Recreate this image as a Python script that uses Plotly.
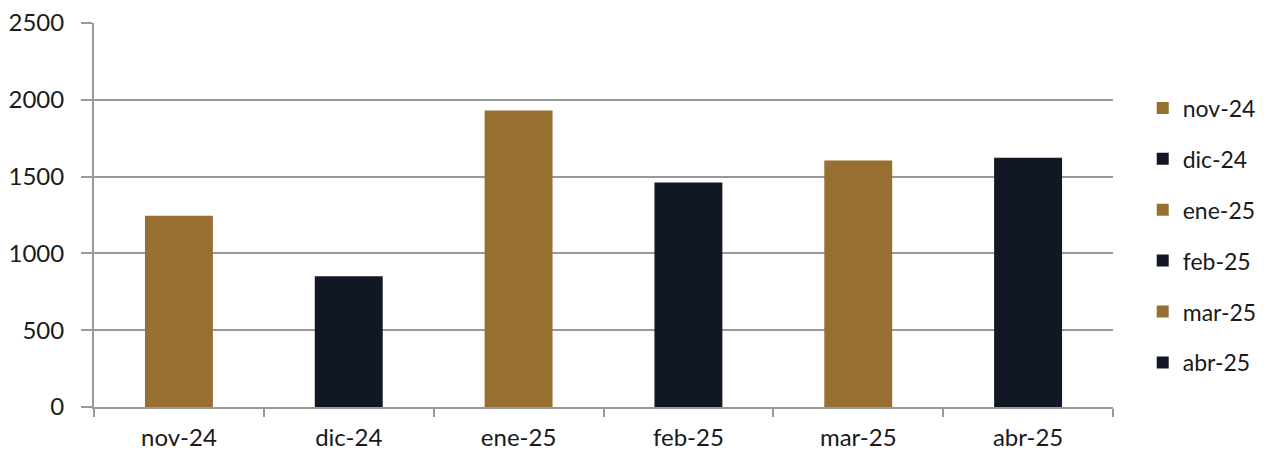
import plotly.graph_objects as go

categories = ["nov-24", "dic-24", "ene-25", "feb-25", "mar-25", "abr-25"]
values = [1245, 851, 1930, 1462, 1605, 1622]
colors = ["#976f31", "#111724", "#976f31", "#111724", "#976f31", "#111724"]
y_ticks = [0, 500, 1000, 1500, 2000, 2500]

fig = go.Figure()
for i, (cat, val, col) in enumerate(zip(categories, values, colors)):
    fig.add_trace(go.Bar(
        x=[cat], y=[val], name=cat, marker=dict(color=col, line=dict(width=0)),
        width=0.4, legendgroup=cat, showlegend=True,
    ))

grid_col = "#999999"
fig.update_layout(
    width=1258, height=451,
    margin=dict(l=86, r=153, t=15, b=52, autoexpand=False),
    paper_bgcolor="white", plot_bgcolor="white",
    barmode="overlay",
    font=dict(family="Lato, 'Open Sans', sans-serif", size=24, color="#1a1a1a"),
    legend=dict(
        x=0.902, xref="container", y=0.826, yref="container",
        xanchor="left", yanchor="top",
        font=dict(size=23, color="#1a1a1a"),
        traceorder="grouped", tracegroupgap=18,
        bgcolor="rgba(0,0,0,0)", maxheight=420,
    ),
    xaxis=dict(
        categoryorder="array", categoryarray=categories,
        showline=True, linecolor=grid_col, linewidth=2,
        ticks="outside", tickson="boundaries", ticklen=8, tickwidth=2, tickcolor=grid_col,
        showgrid=False, tickfont=dict(size=24, color="#1a1a1a"),
        ticklabelstandoff=8, automargin=False, ticklabeloverflow="allow",
        range=[-0.5, 5.5],
    ),
    yaxis=dict(
        range=[0, 2500], tickvals=y_ticks,
        showline=True, linecolor=grid_col, linewidth=2,
        ticks="outside", ticklen=11, tickwidth=2, tickcolor=grid_col,
        showgrid=True, gridcolor=grid_col, gridwidth=2,
        zeroline=False, tickfont=dict(size=24, color="#1a1a1a"),
        ticklabelstandoff=12, automargin=False, ticklabeloverflow="allow",
    ),
)
fig.write_html("out.html")
